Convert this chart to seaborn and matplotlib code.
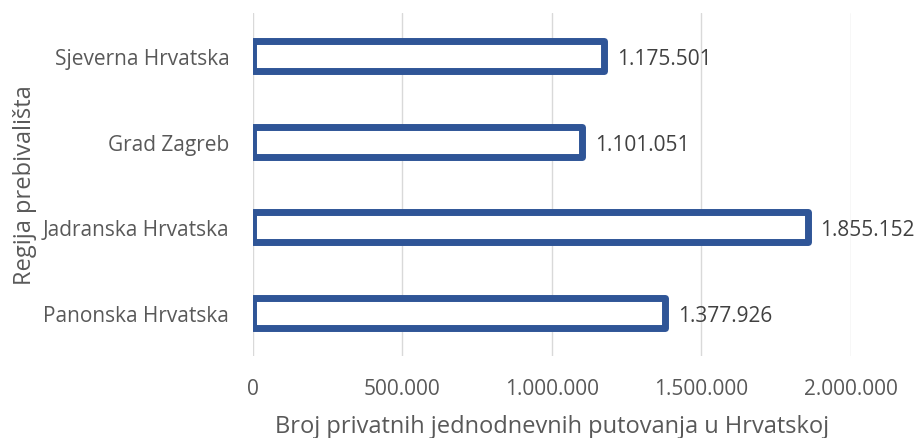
import matplotlib
matplotlib.use("Agg")
import matplotlib.pyplot as plt
import seaborn as sns
import pandas as pd
from matplotlib.ticker import FuncFormatter

categories = ["Sjeverna Hrvatska", "Grad Zagreb", "Jadranska Hrvatska", "Panonska Hrvatska"]
values = [1175501, 1101051, 1855152, 1377926]
xticks = [0, 500000, 1000000, 1500000, 2000000]

sns.set_theme(style="white")
plt.rcParams['font.family'] = ['Open Sans', 'DejaVu Sans']

df = pd.DataFrame({"region": categories, "trips": values})

fig = plt.figure(figsize=(9.23, 4.39), dpi=100)
ax = fig.add_axes([0.274, 0.187, 0.648, 0.781])

sns.barplot(data=df, x="trips", y="region", order=categories, color="white",
            edgecolor="#2F5597", linewidth=5, width=0.35, ax=ax, zorder=3)
for p in ax.patches:
    p.set_joinstyle("round")
    p.set_facecolor("white")

def fmt(v):
    return f"{int(round(v)):,}".replace(",", ".")

for p, v in zip(ax.patches, values):
    ax.text(v + 43000, p.get_y() + p.get_height() / 2, fmt(v), va="center_baseline",
            ha="left", fontsize=15, color="#404040")

ax.set_xlim(0, 2000000)
ax.set_xticks(xticks)
ax.xaxis.set_major_formatter(FuncFormatter(lambda v, _: fmt(v)))
ax.grid(axis="x", color="#D9D9D9", linewidth=1, zorder=0)
ax.set_axisbelow(True)
for s in ax.spines.values():
    s.set_visible(False)
ax.tick_params(axis="x", length=0, pad=16, labelsize=15, labelcolor="#595959")
ax.tick_params(axis="y", length=0, pad=17, labelsize=15, labelcolor="#595959")
ax.set_xlabel("Broj privatnih jednodnevnih putovanja u Hrvatskoj", fontsize=17,
              color="#595959", labelpad=11)
ax.set_ylabel("Regija prebivališta", fontsize=17, color="#595959", labelpad=4)

fig.savefig("out.png", dpi=100)
